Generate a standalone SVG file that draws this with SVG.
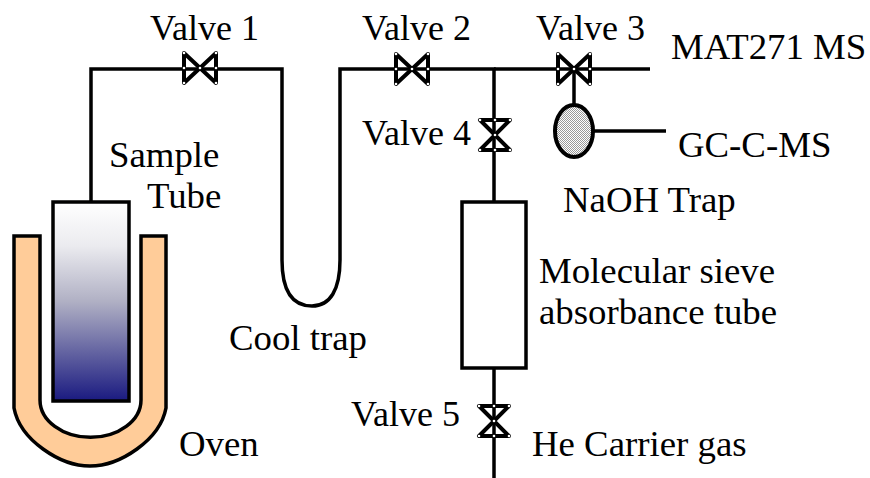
<svg xmlns="http://www.w3.org/2000/svg" width="870" height="478" viewBox="0 0 870 478">
<style>
text{font-family:"Liberation Serif","Times New Roman",serif;font-size:36.8px;fill:#000}
text.n{font-size:36px}
.l{fill:none;stroke:#000;stroke-width:3.5}
.v{fill:none;stroke:#000;stroke-width:4;stroke-linejoin:round}
.d{fill:#fff}
</style>
<defs>
<linearGradient id="g" x1="0" y1="0" x2="0" y2="1"><stop offset="0" stop-color="#fff"/><stop offset="0.22" stop-color="#ebebef"/><stop offset="0.5" stop-color="#b0b0c4"/><stop offset="1" stop-color="#1a1a80"/></linearGradient>
<pattern id="p" width="2" height="2" patternUnits="userSpaceOnUse"><rect width="2" height="2" fill="#fff"/><rect width="1" height="1" fill="#999"/><rect x="1" y="1" width="1" height="1" fill="#999"/></pattern>
<g id="vh"><path class="v" d="M-16,-15 L16,15 L16,-15 L-16,15 Z"/><circle class="d" cx="-16" cy="-15" r="1.3"/><circle class="d" cx="16" cy="-15" r="1.3"/><circle class="d" cx="-16" cy="15" r="1.3"/><circle class="d" cx="16" cy="15" r="1.3"/><circle class="d" cx="0" cy="0" r="1.3"/><circle class="d" cx="-16" cy="0" r="1.3"/><circle class="d" cx="16" cy="0" r="1.3"/></g>
<g id="vv"><path class="v" d="M-15,-15 L15,-15 L-15,15 L15,15 Z"/><circle class="d" cx="-15" cy="-15" r="1.3"/><circle class="d" cx="15" cy="-15" r="1.3"/><circle class="d" cx="-15" cy="15" r="1.3"/><circle class="d" cx="15" cy="15" r="1.3"/><circle class="d" cx="0" cy="0" r="1.3"/><circle class="d" cx="0" cy="-15" r="1.3"/><circle class="d" cx="0" cy="15" r="1.3"/></g>
</defs>
<g id="connectors">
<path class="l" d="M91,202 V69 H282 V260 C282,290 292,306 312,306 C330,306 340,290 340,260 V69 H494 V202"/>
<path class="l" d="M494,69 H650"/>
<path class="l" d="M574,69 V105"/>
<path class="l" d="M594,131 H666"/>
<path class="l" d="M494,368 V478"/>
</g>
<g id="oven"><path d="M14,236 H40 V400 A50,37 0 0 0 141,400 V236 H166 V408 C160,440 120,466 90,466 C60,466 20,440 14,408 Z" fill="#ffcc99" stroke="#000" stroke-width="3.5"/><text x="179" y="456">Oven</text></g>
<g id="sample-tube"><rect x="53" y="202" width="76" height="199" fill="url(#g)" stroke="#000" stroke-width="3.5"/><text x="109" y="167">Sample</text><text x="147" y="208">Tube</text></g>
<g id="cool-trap"><text x="229" y="350">Cool trap</text></g>
<g id="valve-1"><use href="#vh" x="200" y="68"/><text class="n" x="150" y="40">Valve 1</text></g>
<g id="valve-2"><use href="#vh" x="412" y="69"/><text class="n" x="362" y="40">Valve 2</text></g>
<g id="valve-3"><use href="#vh" x="574" y="69"/><text class="n" x="536" y="40">Valve 3</text></g>
<g id="valve-4"><use href="#vv" x="495" y="135"/><text class="n" x="362" y="145">Valve 4</text></g>
<g id="valve-5"><use href="#vv" x="494" y="421"/><text class="n" x="351" y="426">Valve 5</text></g>
<g id="mat271"><text x="671" y="59">MAT271 MS</text></g>
<g id="gc-c-ms"><text x="678" y="157">GC-C-MS</text></g>
<g id="naoh-trap"><ellipse cx="574" cy="131" rx="19" ry="26" fill="url(#p)" stroke="#000" stroke-width="4"/><text x="563" y="212">NaOH Trap</text></g>
<g id="molecular-sieve"><rect x="462" y="202" width="64" height="166" fill="#fff" stroke="#000" stroke-width="3.5"/><text x="539" y="283">Molecular sieve</text><text x="539" y="324">absorbance tube</text></g>
<g id="he-carrier"><text x="532" y="456">He Carrier gas</text></g>
</svg>
